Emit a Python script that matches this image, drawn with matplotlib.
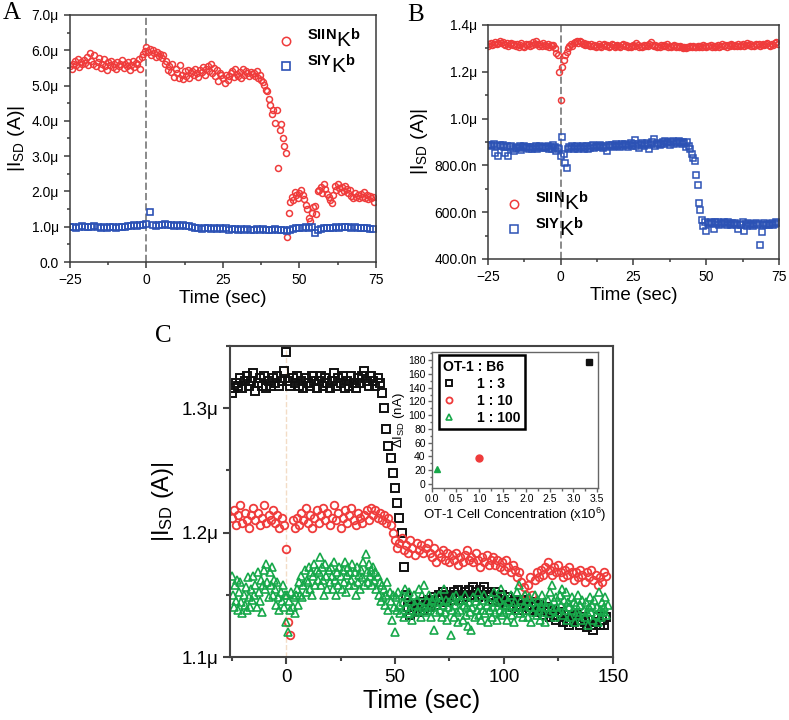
import numpy as np
import matplotlib.pyplot as plt
from matplotlib.ticker import MultipleLocator, FuncFormatter

plt.rcParams['font.family'] = ['Liberation Sans', 'DejaVu Sans']
plt.rcParams['mathtext.fontset'] = 'custom'
plt.rcParams['mathtext.rm'] = 'Liberation Sans'
plt.rcParams['mathtext.bf'] = 'Liberation Sans:bold'
plt.rcParams['mathtext.it'] = 'Liberation Sans:italic'

# ---- panel A: |I_SD| in uA, sampled every 0.5 s (red) / 1 s (blue) ----
a_red = [
    5.55, 5.48, 5.62, 5.70, 5.58, 5.75, 5.52, 5.66, 5.60, 5.72,
    5.64, 5.80, 5.58, 5.92, 5.70, 5.62, 5.86, 5.55, 5.68, 5.78,
    5.50, 5.62, 5.74, 5.56, 5.45, 5.66, 5.58, 5.70, 5.52, 5.62,
    5.48, 5.68, 5.55, 5.60, 5.72, 5.50, 5.62, 5.56, 5.66, 5.45,
    5.58, 5.70, 5.52, 5.64, 5.60, 5.75, 5.48, 5.82, 5.90, 5.98,
    6.10, 5.95, 6.05, 5.88, 6.00, 5.92, 5.80, 5.96, 5.85, 5.90,
    5.78, 5.88, 5.62, 5.70, 5.45, 5.55, 5.38, 5.60, 5.25, 5.48,
    5.35, 5.22, 5.58, 5.30, 5.18, 5.40, 5.28, 5.45, 5.20, 5.35,
    5.42, 5.30, 5.48, 5.36, 5.25, 5.45, 5.38, 5.52, 5.30, 5.46,
    5.55, 5.40, 5.60, 5.35, 5.50, 5.28, 5.44, 5.12, 5.36, 5.30,
    5.22, 5.06, 5.30, 5.15, 5.28, 5.35, 5.42, 5.25, 5.48, 5.32,
    5.28, 5.38, 5.20, 5.46, 5.30, 5.42, 5.35, 5.26, 5.38, 5.32,
    5.36, 5.28, 5.40, 5.22, 5.30, 5.15, 5.10, 5.02, 4.88, 4.85,
    4.62, 4.45, 4.18, 4.30, 3.95, 4.30, 2.65, 3.75, 3.90, 3.50,
    3.28, 3.10, 0.72, 1.40, 1.70, 1.85, 1.75, 1.98, 1.90, 1.80,
    1.95, 2.05, 1.90, 1.78, 1.62, 1.50, 1.25, 1.15, 1.40, 1.55,
    1.60, 1.35, 2.00, 2.05, 2.12, 1.95, 2.20, 2.08, 1.92, 1.85,
    1.75, 1.68, 1.90, 2.15, 2.05, 2.20, 2.10, 1.98, 2.12, 2.02,
    2.15, 2.08, 1.95, 2.05, 1.88, 1.82, 1.95, 1.85, 1.90, 1.80,
    1.92, 1.85, 1.98, 1.82, 1.90, 1.78, 1.86, 1.80, 1.84, 1.70,
]
a_blue = [
    0.98, 1.00, 0.97, 0.99, 1.01, 0.98, 1.00, 0.99, 1.02, 0.98,
    0.97, 0.99, 0.96, 0.98, 1.00, 0.97, 0.99, 0.98, 1.00, 1.01,
    1.03, 1.05, 1.02, 1.06, 1.04, 1.07, 1.42, 1.05, 1.03, 1.06,
    1.05, 1.07, 1.04, 1.06, 1.03, 1.05, 1.02, 1.04, 1.01, 1.03,
    0.98, 0.95, 0.97, 0.94, 0.96, 0.95, 0.93, 0.95, 0.94, 0.96,
    0.93, 0.95, 0.92, 0.94, 0.93, 0.91, 0.93, 0.92, 0.94, 0.91,
    0.92, 0.94, 0.91, 0.93, 0.92, 0.90, 0.92, 0.93, 0.91, 0.92,
    0.90, 0.89, 0.92, 0.94, 0.95, 0.97, 0.96, 0.98, 0.97, 0.99,
    0.82, 0.90, 0.94, 0.96, 0.95, 0.97, 0.96, 0.98, 0.97, 0.99,
    0.98, 1.00, 0.97, 0.99, 0.96, 0.97, 0.95, 0.96, 0.94, 0.93,
]

# ---- panel B: |I_SD| in uA, sampled every 0.5 s ----
b_red = [
    1.312, 1.318, 1.322, 1.315, 1.320, 1.326, 1.318, 1.324, 1.330, 1.322,
    1.328, 1.320, 1.316, 1.322, 1.310, 1.318, 1.324, 1.314, 1.320, 1.312,
    1.318, 1.308, 1.316, 1.322, 1.312, 1.306, 1.318, 1.314, 1.320, 1.310,
    1.316, 1.326, 1.318, 1.330, 1.320, 1.312, 1.318, 1.310, 1.322, 1.316,
    1.312, 1.318, 1.306, 1.314, 1.310, 1.316, 1.300, 1.282, 1.270, 1.200,
    1.080, 1.220, 1.250, 1.270, 1.285, 1.300, 1.312, 1.318, 1.310, 1.322,
    1.326, 1.330, 1.322, 1.332, 1.326, 1.320, 1.324, 1.316, 1.320, 1.314,
    1.312, 1.318, 1.310, 1.316, 1.308, 1.312, 1.318, 1.310, 1.306, 1.314,
    1.320, 1.310, 1.316, 1.306, 1.312, 1.318, 1.314, 1.308, 1.312, 1.316,
    1.310, 1.306, 1.314, 1.320, 1.310, 1.316, 1.308, 1.312, 1.304, 1.310,
    1.316, 1.310, 1.322, 1.314, 1.308, 1.312, 1.306, 1.314, 1.310, 1.316,
    1.312, 1.320, 1.326, 1.316, 1.310, 1.314, 1.306, 1.312, 1.308, 1.314,
    1.310, 1.316, 1.312, 1.318, 1.308, 1.312, 1.306, 1.310, 1.314, 1.308,
    1.312, 1.306, 1.310, 1.304, 1.300, 1.306, 1.302, 1.308, 1.304, 1.310,
    1.306, 1.312, 1.308, 1.304, 1.310, 1.306, 1.312, 1.308, 1.314, 1.310,
    1.306, 1.312, 1.310, 1.316, 1.308, 1.312, 1.306, 1.310, 1.314, 1.308,
    1.312, 1.318, 1.310, 1.314, 1.308, 1.316, 1.312, 1.318, 1.314, 1.310,
    1.316, 1.312, 1.320, 1.310, 1.314, 1.318, 1.312, 1.316, 1.322, 1.314,
    1.318, 1.312, 1.316, 1.310, 1.320, 1.314, 1.318, 1.312, 1.316, 1.320,
    1.314, 1.318, 1.322, 1.316, 1.312, 1.320, 1.316, 1.322, 1.326, 1.318,
]
b_blue = [
    0.885, 0.888, 0.882, 0.886, 0.890, 0.855, 0.884, 0.840, 0.887, 0.883,
    0.886, 0.880, 0.855, 0.884, 0.840, 0.878, 0.882, 0.870, 0.862, 0.876,
    0.880, 0.876, 0.882, 0.866, 0.878, 0.884, 0.874, 0.880, 0.870, 0.877,
    0.872, 0.880, 0.876, 0.884, 0.870, 0.878, 0.882, 0.874, 0.880, 0.876,
    0.878, 0.884, 0.872, 0.880, 0.868, 0.886, 0.880, 0.862, 0.876, 0.870,
    0.840, 0.920, 0.850, 0.810, 0.790, 0.868, 0.880, 0.874, 0.882, 0.870,
    0.878, 0.884, 0.872, 0.880, 0.876, 0.882, 0.870, 0.878, 0.884, 0.868,
    0.876, 0.882, 0.886, 0.874, 0.880, 0.884, 0.878, 0.888, 0.882, 0.876,
    0.884, 0.880, 0.862, 0.886, 0.882, 0.888, 0.878, 0.884, 0.890, 0.882,
    0.886, 0.880, 0.890, 0.884, 0.892, 0.886, 0.880, 0.888, 0.894, 0.884,
    0.890, 0.908, 0.884, 0.892, 0.876, 0.888, 0.896, 0.882, 0.890, 0.894,
    0.886, 0.872, 0.892, 0.898, 0.912, 0.884, 0.890, 0.896, 0.886, 0.892,
    0.898, 0.890, 0.906, 0.894, 0.900, 0.886, 0.898, 0.904, 0.892, 0.900,
    0.896, 0.904, 0.898, 0.890, 0.902, 0.894, 0.878, 0.900, 0.884, 0.870,
    0.850, 0.830, 0.820, 0.760, 0.715, 0.640, 0.610, 0.565, 0.540, 0.560,
    0.520, 0.555, 0.548, 0.560, 0.552, 0.530, 0.556, 0.550, 0.558, 0.546,
    0.554, 0.548, 0.560, 0.552, 0.546, 0.556, 0.550, 0.544, 0.554, 0.548,
    0.552, 0.546, 0.530, 0.550, 0.544, 0.556, 0.520, 0.548, 0.542, 0.552,
    0.546, 0.550, 0.540, 0.548, 0.554, 0.544, 0.550, 0.460, 0.515, 0.546,
    0.552, 0.546, 0.550, 0.544, 0.548, 0.554, 0.546, 0.550, 0.556, 0.552,
]

# ---- panel C: OT-1 : B6 ratios, |I_SD| in uA ----
c_black = [  # 1 : 3, every 1 s from -25 s
    1.312, 1.316, 1.320, 1.318, 1.324, 1.316, 1.322, 1.326, 1.318, 1.322,
    1.328, 1.314, 1.320, 1.324, 1.318, 1.326, 1.316, 1.322, 1.318, 1.324,
    1.320, 1.326, 1.318, 1.322, 1.330, 1.345, 1.322, 1.318, 1.324, 1.320,
    1.326, 1.318, 1.322, 1.316, 1.324, 1.320, 1.318, 1.326, 1.322, 1.316,
    1.322, 1.326, 1.318, 1.324, 1.320, 1.316, 1.322, 1.328, 1.318, 1.324,
    1.320, 1.326, 1.316, 1.322, 1.318, 1.326, 1.320, 1.316, 1.324, 1.320,
    1.326, 1.330, 1.322, 1.318, 1.326, 1.322, 1.318, 1.324, 1.320, 1.312,
    1.300, 1.283, 1.270, 1.260, 1.248, 1.236, 1.224, 1.212, 1.200, 1.172,
    1.150, 1.140, 1.134, 1.138, 1.142, 1.136, 1.140, 1.144, 1.138, 1.142,
    1.146, 1.140, 1.144, 1.148, 1.142, 1.150, 1.146, 1.152, 1.148, 1.144,
    1.150, 1.146, 1.152, 1.148, 1.154, 1.150, 1.146, 1.152, 1.148, 1.154,
    1.150, 1.156, 1.152, 1.148, 1.154, 1.150, 1.156, 1.152, 1.148, 1.150,
    1.146, 1.152, 1.148, 1.144, 1.150, 1.146, 1.142, 1.148, 1.144, 1.140,
    1.146, 1.142, 1.138, 1.144, 1.140, 1.146, 1.142, 1.138, 1.144, 1.140,
    1.136, 1.142, 1.138, 1.134, 1.140, 1.136, 1.132, 1.138, 1.134, 1.130,
    1.136, 1.132, 1.128, 1.134, 1.130, 1.126, 1.132, 1.128, 1.134, 1.130,
    1.126, 1.132, 1.128, 1.124, 1.130, 1.126, 1.122, 1.128, 1.132, 1.126,
    1.130, 1.126, 1.132,
]
c_red = [  # 1 : 10, every 1 s from -25 s
    1.212, 1.218, 1.206, 1.214, 1.222, 1.208, 1.216, 1.210, 1.204, 1.214,
    1.220, 1.210, 1.216, 1.206, 1.212, 1.222, 1.208, 1.214, 1.210, 1.218,
    1.208, 1.214, 1.204, 1.212, 1.206, 1.187, 1.128, 1.118, 1.210, 1.204,
    1.212, 1.206, 1.216, 1.210, 1.220, 1.208, 1.214, 1.204, 1.212, 1.218,
    1.208, 1.214, 1.220, 1.210, 1.216, 1.206, 1.212, 1.222, 1.210, 1.216,
    1.204, 1.212, 1.218, 1.208, 1.214, 1.220, 1.210, 1.206, 1.216, 1.212,
    1.208, 1.214, 1.218, 1.210, 1.220, 1.214, 1.218, 1.212, 1.216, 1.210,
    1.214, 1.208, 1.212, 1.206, 1.200, 1.194, 1.188, 1.192, 1.196, 1.186,
    1.190, 1.184, 1.194, 1.188, 1.182, 1.192, 1.186, 1.190, 1.184, 1.188,
    1.192, 1.184, 1.180, 1.188, 1.176, 1.184, 1.180, 1.186, 1.178, 1.184,
    1.176, 1.182, 1.178, 1.184, 1.174, 1.180, 1.176, 1.182, 1.186, 1.178,
    1.180, 1.176, 1.184, 1.178, 1.172, 1.180, 1.176, 1.182, 1.174, 1.178,
    1.180, 1.174, 1.178, 1.172, 1.176, 1.170, 1.178, 1.172, 1.168, 1.174,
    1.170, 1.164, 1.168, 1.160, 1.156, 1.150, 1.158, 1.164, 1.150, 1.162,
    1.168, 1.164, 1.170, 1.166, 1.172, 1.176, 1.170, 1.166, 1.172, 1.168,
    1.174, 1.168, 1.164, 1.170, 1.166, 1.172, 1.168, 1.162, 1.168, 1.164,
    1.170, 1.166, 1.160, 1.168, 1.164, 1.170, 1.162, 1.166, 1.158, 1.164,
    1.160, 1.168, 1.165,
]
c_green = [  # 1 : 100, every 0.5 s from -25 s
    1.165, 1.150, 1.140, 1.158, 1.145, 1.162, 1.138, 1.152, 1.160, 1.144,
    1.135, 1.150, 1.142, 1.156, 1.138, 1.164, 1.148, 1.140, 1.155, 1.146,
    1.165, 1.150, 1.158, 1.140, 1.168, 1.152, 1.145, 1.162, 1.136, 1.158,
    1.170, 1.155, 1.175, 1.160, 1.148, 1.168, 1.158, 1.172, 1.150, 1.162,
    1.155, 1.142, 1.160, 1.148, 1.138, 1.152, 1.145, 1.158, 1.140, 1.150,
    1.128, 1.150, 1.120, 1.145, 1.138, 1.152, 1.140, 1.148, 1.135, 1.150,
    1.155, 1.142, 1.160, 1.150, 1.165, 1.148, 1.158, 1.170, 1.152, 1.162,
    1.160, 1.172, 1.155, 1.168, 1.150, 1.165, 1.175, 1.158, 1.170, 1.162,
    1.168, 1.180, 1.158, 1.172, 1.162, 1.150, 1.175, 1.165, 1.155, 1.170,
    1.160, 1.172, 1.165, 1.155, 1.176, 1.162, 1.150, 1.168, 1.158, 1.172,
    1.165, 1.155, 1.170, 1.160, 1.176, 1.152, 1.166, 1.172, 1.158, 1.168,
    1.162, 1.175, 1.158, 1.168, 1.150, 1.172, 1.160, 1.166, 1.155, 1.170,
    1.164, 1.176, 1.158, 1.183, 1.168, 1.160, 1.175, 1.165, 1.170, 1.158,
    1.172, 1.162, 1.168, 1.155, 1.165, 1.150, 1.160, 1.145, 1.158, 1.148,
    1.155, 1.142, 1.150, 1.160, 1.138, 1.152, 1.145, 1.130, 1.150, 1.140,
    1.120, 1.148, 1.138, 1.152, 1.142, 1.135, 1.150, 1.144, 1.132, 1.155,
    1.140, 1.148, 1.135, 1.152, 1.138, 1.145, 1.130, 1.150, 1.142, 1.136,
    1.146, 1.138, 1.155, 1.142, 1.132, 1.150, 1.140, 1.158, 1.136, 1.145,
    1.138, 1.150, 1.142, 1.132, 1.146, 1.140, 1.122, 1.148, 1.136, 1.144,
    1.150, 1.138, 1.145, 1.132, 1.142, 1.155, 1.136, 1.146, 1.130, 1.140,
    1.144, 1.118, 1.138, 1.148, 1.132, 1.142, 1.150, 1.136, 1.128, 1.145,
    1.138, 1.146, 1.130, 1.142, 1.150, 1.134, 1.140, 1.125, 1.144, 1.136,
    1.122, 1.140, 1.148, 1.132, 1.145, 1.138, 1.152, 1.134, 1.142, 1.130,
    1.146, 1.138, 1.150, 1.135, 1.142, 1.128, 1.145, 1.138, 1.148, 1.132,
    1.140, 1.152, 1.136, 1.144, 1.130, 1.146, 1.138, 1.155, 1.134, 1.142,
    1.136, 1.148, 1.140, 1.130, 1.145, 1.138, 1.150, 1.134, 1.142, 1.128,
    1.144, 1.138, 1.152, 1.140, 1.158, 1.135, 1.146, 1.132, 1.142, 1.150,
    1.138, 1.145, 1.132, 1.148, 1.140, 1.128, 1.144, 1.136, 1.150, 1.140,
    1.134, 1.146, 1.138, 1.130, 1.142, 1.150, 1.136, 1.144, 1.128, 1.140,
    1.146, 1.135, 1.152, 1.140, 1.158, 1.138, 1.145, 1.132, 1.148, 1.140,
    1.136, 1.150, 1.142, 1.155, 1.134, 1.146, 1.138, 1.152, 1.130, 1.144,
    1.140, 1.132, 1.148, 1.138, 1.144, 1.128, 1.142, 1.136, 1.150, 1.134,
    1.142, 1.130, 1.146, 1.138, 1.132, 1.144, 1.136, 1.126, 1.140, 1.148,
    1.136, 1.142, 1.130, 1.146, 1.134, 1.140, 1.128, 1.152, 1.138, 1.132,
    1.144, 1.136, 1.140, 1.148, 1.134, 1.142,
]

# inset: delta I_SD vs OT-1 cell concentration
conc = [3.33, 1.0, 0.1]
delta_i = [177, 37, 21]
ratio_labels = ['1 : 3', '1 : 10', '1 : 100']

# sampling grids
t_a_red = np.linspace(-25, 74.5, len(a_red))
t_a_blue = np.linspace(-25, 74, len(a_blue))
t_b_red = np.linspace(-25, 74.5, len(b_red))
t_b_blue = np.linspace(-25, 74.5, len(b_blue))
t_c_black = np.linspace(-25, 147, len(c_black))
t_c_red = np.linspace(-25, 147, len(c_red))
t_c_green = np.linspace(-25, 147.5, len(c_green))

RED = '#ef3b3b'
BLUE = '#2c52b5'
GREEN = '#17a84a'
BLACK = '#111111'
SPINE = '#3a3a3a'

lab_siin = r'${}^{\mathbf{SIIN}}\mathrm{K}^{\mathbf{b}}$'
lab_siy = r'${}^{\mathbf{SIY}}\mathrm{K}^{\mathbf{b}}$'
ylab = r'|I$_{\mathrm{SD}}$ (A)|'


def style(ax, lw=1.1, color=SPINE, ticksize=10, major=4.5, minor=2.5):
    for s in ax.spines.values():
        s.set_linewidth(lw)
        s.set_color(color)
    ax.tick_params(which='both', direction='out', top=False, right=False,
                   color=color, width=lw, labelsize=ticksize)
    ax.tick_params(which='major', length=major)
    ax.tick_params(which='minor', length=minor)


def fmt_a(v, pos):
    return '0.0' if abs(v) < 1e-9 else f'{v:.1f}\u03bc'


def fmt_b(v, pos):
    return f'{v * 1000:.1f}n' if v < 0.999 else f'{v:.1f}\u03bc'


fig = plt.figure(figsize=(7.89, 7.2), dpi=100)

# ---------------- A ----------------
axA = fig.add_axes([0.0887, 0.6361, 0.3878, 0.3431])
axA.axvline(0, color='#8a8a8a', ls='--', lw=1.4, zorder=0)
hA1, = axA.plot(t_a_red, a_red, 'o', mfc='none', mec=RED, ms=4.3, mew=1.1)
hA2, = axA.plot(t_a_blue, a_blue, 's', mfc='none', mec=BLUE, ms=4.0, mew=1.2)
axA.set_xlim(-25, 75)
axA.set_ylim(0, 7)
axA.xaxis.set_major_locator(MultipleLocator(25))
axA.xaxis.set_minor_locator(MultipleLocator(12.5))
axA.yaxis.set_major_locator(MultipleLocator(1))
axA.yaxis.set_minor_locator(MultipleLocator(0.5))
axA.yaxis.set_major_formatter(FuncFormatter(fmt_a))
style(axA)
axA.set_xlabel('Time (sec)', fontsize=13.5, labelpad=2)
axA.set_ylabel(ylab, fontsize=14, labelpad=3)
axA.legend([hA1, hA2], [lab_siin, lab_siy], loc='upper right',
           bbox_to_anchor=(1.01, 1.02), frameon=False, fontsize=15,
           markerscale=1.4, handlelength=1.0, handletextpad=0.5,
           labelspacing=0.1)

# ---------------- B ----------------
axB = fig.add_axes([0.6185, 0.6403, 0.3688, 0.3250])
axB.axvline(0, color='#8a8a8a', ls='--', lw=1.4, zorder=0)
hB1, = axB.plot(t_b_red, b_red, 'o', mfc='none', mec=RED, ms=4.3, mew=1.1)
hB2, = axB.plot(t_b_blue, b_blue, 's', mfc='none', mec=BLUE, ms=4.0, mew=1.1)
axB.set_xlim(-25, 75)
axB.set_ylim(0.4, 1.4)
axB.xaxis.set_major_locator(MultipleLocator(25))
axB.xaxis.set_minor_locator(MultipleLocator(12.5))
axB.yaxis.set_major_locator(MultipleLocator(0.2))
axB.yaxis.set_minor_locator(MultipleLocator(0.1))
axB.yaxis.set_major_formatter(FuncFormatter(fmt_b))
style(axB)
axB.set_xlabel('Time (sec)', fontsize=13.5, labelpad=2)
axB.set_ylabel(ylab, fontsize=14, labelpad=3)
axB.legend([hB1, hB2], [lab_siin, lab_siy], loc='lower left',
           bbox_to_anchor=(-0.01, 0.0), frameon=False, fontsize=15,
           markerscale=1.4, handlelength=1.0, handletextpad=0.5,
           labelspacing=0.1)

# ---------------- C ----------------
axC = fig.add_axes([0.2915, 0.0875, 0.4854, 0.4319])
axC.axvline(0, color='#f3dcc6', ls='--', lw=1.0, zorder=0)
hC1, = axC.plot(t_c_black, c_black, 's', mfc='none', mec=BLACK, ms=5.2, mew=1.4)
hC2, = axC.plot(t_c_red, c_red, 'o', mfc='none', mec=RED, ms=5.5, mew=1.3)
hC3, = axC.plot(t_c_green, c_green, '^', mfc='none', mec=GREEN, ms=5.5, mew=1.2)
axC.set_xlim(-25.7, 150)
axC.set_ylim(1.1, 1.35)
axC.xaxis.set_major_locator(MultipleLocator(50))
axC.xaxis.set_minor_locator(MultipleLocator(25))
axC.yaxis.set_major_locator(MultipleLocator(0.1))
axC.yaxis.set_minor_locator(MultipleLocator(0.05))
axC.yaxis.set_major_formatter(FuncFormatter(lambda v, p: f'{v:.1f}\u03bc'))
style(axC, lw=1.5, color='#444444', ticksize=13.5, major=5, minor=3)
axC.set_xlabel('Time (sec)', fontsize=18, labelpad=2)
axC.set_ylabel(ylab, fontsize=17, labelpad=4)

# ---------------- inset ----------------
axI = fig.add_axes([0.5475, 0.3222, 0.2104, 0.1889])
axI.plot(conc[0], delta_i[0], 's', color=BLACK, ms=4.5)
axI.plot(conc[1], delta_i[1], 'o', color=RED, ms=5)
axI.plot(conc[2], delta_i[2], '^', color=GREEN, ms=5)
axI.set_xlim(0, 3.52)
axI.set_ylim(-6, 192)
axI.xaxis.set_major_locator(MultipleLocator(0.5))
axI.xaxis.set_minor_locator(MultipleLocator(0.25))
axI.yaxis.set_major_locator(MultipleLocator(20))
axI.yaxis.set_minor_locator(MultipleLocator(10))
axI.xaxis.set_major_formatter(FuncFormatter(lambda v, p: f'{v:.1f}'))
style(axI, lw=1.0, color='#666666', ticksize=7.5, major=3, minor=1.8)
axI.tick_params(which='both', pad=1.5)
axI.set_xlabel(r'OT-1 Cell Concentration (x10$^{6}$)', fontsize=9.5, labelpad=1)
axI.set_ylabel(r'$\Delta$I$_{\mathrm{SD}}$ (nA)', fontsize=9.5, labelpad=1)
leg = axI.legend([hC1, hC2, hC3], ratio_labels, title='OT-1 : B6',
                 loc='upper left', bbox_to_anchor=(0.04, 0.975),
                 prop={'weight': 'bold', 'size': 10},
                 title_fontproperties={'weight': 'bold', 'size': 10},
                 alignment='left', fancybox=False, framealpha=1,
                 edgecolor='black', handlelength=0.8, handletextpad=1.6,
                 borderpad=0.35, labelspacing=0.2, borderaxespad=0,
                 markerscale=0.8)
leg.get_frame().set_linewidth(1.8)

# panel letters
fig.text(0.015, 0.982, 'A', family='Liberation Serif', fontsize=18,
         ha='center', va='center')
fig.text(0.527, 0.979, 'B', family='Liberation Serif', fontsize=18,
         ha='center', va='center')
fig.text(0.207, 0.533, 'C', family='Liberation Serif', fontsize=18,
         ha='center', va='center')

fig.savefig('out.png', dpi=100)
